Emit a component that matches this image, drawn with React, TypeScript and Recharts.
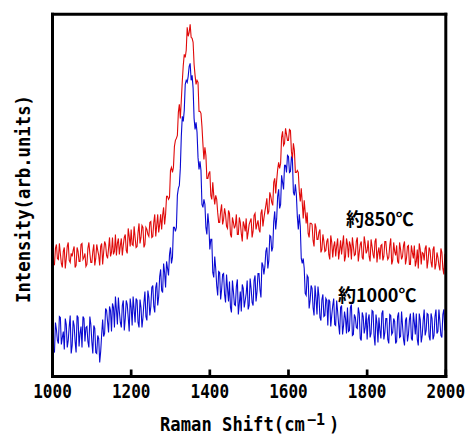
import React from 'react';
import { LineChart, Line, XAxis, YAxis } from 'recharts';

// Raman spectra sampled every 2.5 cm-1 from 1000 to 2000 cm-1
const SHIFT_START = 1000;
const SHIFT_STEP = 2.5;

// Intensity (arb. units) of the sample treated at about 850 °C
const intensity850 = [
  127, 111, 112, 128, 132, 118, 117, 133, 123, 113, 109, 125, 129, 108, 118, 130, 134, 116, 114, 123,
  120, 126, 130, 109, 111, 129, 125, 115, 115, 132, 133, 117, 119, 123, 110, 112, 128, 134, 123, 114,
  114, 125, 132, 111, 118, 132, 126, 121, 111, 130, 133, 112, 124, 135, 132, 121, 118, 128, 139, 120,
  124, 139, 122, 125, 142, 121, 133, 138, 122, 131, 138, 121, 131, 139, 142, 126, 123, 148, 140, 130,
  147, 132, 131, 150, 139, 129, 130, 144, 153, 133, 139, 151, 149, 129, 132, 149, 147, 142, 140, 154,
  155, 139, 140, 154, 162, 140, 151, 162, 144, 152, 162, 147, 161, 169, 152, 162, 180, 180, 177, 179,
  206, 209, 204, 209, 230, 236, 238, 241, 264, 272, 258, 276, 295, 311, 322, 319, 326, 349, 340, 344,
  352, 339, 338, 334, 312, 301, 292, 296, 294, 265, 265, 263, 250, 232, 217, 229, 221, 198, 198, 203,
  205, 181, 177, 194, 181, 172, 181, 177, 164, 154, 154, 165, 172, 152, 157, 168, 162, 150, 148, 166,
  163, 142, 139, 159, 154, 148, 151, 162, 142, 142, 159, 154, 143, 135, 155, 151, 145, 158, 137, 144,
  152, 155, 158, 139, 145, 161, 163, 147, 152, 156, 147, 144, 163, 167, 150, 158, 165, 171, 178, 162,
  165, 184, 180, 174, 171, 194, 198, 183, 196, 207, 214, 208, 213, 239, 245, 231, 233, 248, 242, 236,
  236, 247, 246, 225, 217, 233, 226, 204, 204, 206, 204, 185, 175, 188, 174, 158, 176, 164, 153, 164,
  143, 139, 153, 153, 152, 136, 130, 153, 149, 137, 137, 144, 147, 124, 127, 142, 135, 125, 126, 135,
  138, 122, 117, 141, 134, 119, 130, 135, 120, 130, 138, 117, 126, 136, 122, 132, 141, 115, 120, 138,
  132, 119, 135, 131, 117, 139, 130, 121, 122, 135, 139, 115, 124, 132, 135, 119, 117, 140, 133, 123,
  126, 136, 120, 115, 137, 130, 122, 118, 135, 138, 114, 124, 129, 117, 131, 132, 116, 120, 135, 135,
  123, 117, 119, 131, 138, 112, 116, 134, 125, 121, 131, 115, 113, 134, 127, 117, 120, 131, 135, 112,
  118, 130, 131, 112, 112, 131, 124, 118, 131, 110, 115, 127, 108, 133, 127, 112, 124, 123, 116, 128,
  131, 108, 116, 129, 126, 114, 109, 127, 130, 107, 112, 124, 119, 111, 106, 128, 124, 108, 102, 121,
  119,
];

// Intensity (arb. units) of the sample treated at about 1000 °C
const intensity1000 = [
  56, 27, 24, 54, 47, 36, 33, 60, 59, 32, 39, 45, 27, 58, 52, 29, 36, 50, 61, 23,
  31, 56, 51, 35, 24, 61, 59, 30, 43, 50, 29, 60, 58, 35, 49, 50, 35, 29, 60, 52,
  35, 23, 51, 48, 24, 23, 41, 38, 14, 25, 42, 57, 40, 43, 68, 66, 55, 44, 70, 66,
  45, 73, 69, 49, 80, 67, 52, 79, 65, 54, 49, 71, 76, 46, 58, 76, 72, 59, 45, 78,
  69, 51, 80, 67, 54, 78, 76, 54, 49, 77, 69, 49, 59, 74, 85, 60, 56, 86, 79, 61,
  70, 89, 91, 70, 64, 89, 94, 71, 80, 100, 107, 86, 84, 113, 104, 89, 115, 108, 101, 122,
  129, 113, 119, 149, 149, 145, 149, 181, 188, 191, 208, 240, 260, 255, 266, 292, 296, 294, 300, 310,
  313, 296, 301, 288, 258, 247, 254, 244, 219, 207, 215, 206, 172, 169, 177, 172, 149, 142, 163, 152,
  127, 137, 137, 104, 99, 120, 108, 91, 81, 105, 104, 77, 87, 102, 103, 82, 74, 102, 88, 75,
  95, 69, 64, 96, 85, 72, 71, 90, 97, 62, 73, 85, 65, 92, 88, 69, 76, 83, 96, 67,
  71, 98, 88, 74, 71, 96, 101, 75, 85, 103, 103, 87, 79, 114, 111, 102, 110, 125, 129, 108,
  116, 141, 140, 125, 129, 155, 165, 147, 158, 180, 187, 168, 172, 201, 194, 187, 211, 211, 204, 221,
  220, 204, 205, 219, 217, 184, 181, 192, 182, 160, 147, 162, 150, 118, 113, 118, 108, 83, 81, 101,
  99, 68, 76, 91, 88, 69, 61, 91, 78, 62, 90, 80, 59, 56, 77, 82, 60, 61, 78, 76,
  51, 77, 75, 50, 61, 71, 78, 52, 51, 76, 65, 52, 42, 69, 71, 42, 51, 65, 58, 43,
  69, 45, 46, 69, 72, 41, 42, 62, 59, 49, 48, 69, 63, 38, 36, 64, 60, 43, 49, 64,
  37, 57, 62, 39, 43, 66, 65, 41, 31, 62, 53, 34, 59, 46, 38, 63, 66, 37, 44, 58,
  58, 37, 33, 62, 61, 42, 44, 58, 55, 33, 35, 60, 64, 39, 40, 65, 51, 37, 31, 56,
  59, 35, 42, 57, 63, 38, 36, 64, 54, 42, 63, 37, 31, 63, 57, 34, 41, 56, 67, 41,
  46, 63, 62, 40, 36, 63, 58, 37, 41, 60, 67, 43, 45, 67, 55, 41, 39, 62, 67, 47,
  48,
];

const shiftTicks = [1000, 1200, 1400, 1600, 1800, 2000];
const shiftDomain = [1000, 2000];
const intensityTicks = [42, 148, 254];
const intensityDomain = [0, 362];

const label850 = '約850℃';
const label1000 = '約1000℃';
const xTitle = 'Raman Shift(cm';
const xTitleExp = '−1';
const xTitleEnd = ')';
const yTitle = 'Intensity(arb.units)';

const data = intensity850.map((v, i) => ({
  shift: SHIFT_START + i * SHIFT_STEP,
  t850: v,
  t1000: intensity1000[i],
}));

const MONO = "'DejaVu Sans Mono', monospace";
const CJK = "'Noto Sans CJK JP', sans-serif";

const frameLine = { stroke: '#000', strokeWidth: 3, strokeLinecap: 'square' as const };
const tickLine = { stroke: '#000', strokeWidth: 2.7 };

const ShiftTick = (props: any) => {
  const { x, y, payload } = props;
  return (
    <text
      transform={`translate(${x},${y}) scale(0.8,1)`}
      textAnchor="middle"
      fontFamily={MONO}
      fontWeight="bold"
      fontSize={20}
      fill="#000"
    >
      {payload.value}
    </text>
  );
};

export default function App() {
  return (
    <div style={{ position: 'absolute', left: 0, top: 0, background: '#fff' }}>
      <LineChart
        width={467}
        height={435}
        data={data}
        margin={{ top: 13.3, right: 20.2, bottom: 57.5, left: 51.5 }}
      >
        <XAxis
          xAxisId="bottom"
          dataKey="shift"
          type="number"
          domain={shiftDomain}
          ticks={shiftTicks}
          allowDataOverflow
          height={1}
          axisLine={frameLine}
          tickLine={tickLine}
          tickSize={-7}
          tickMargin={28.5}
          tick={<ShiftTick />}
        />
        <XAxis
          xAxisId="top"
          orientation="top"
          dataKey="shift"
          type="number"
          domain={shiftDomain}
          ticks={shiftTicks}
          allowDataOverflow
          height={1}
          axisLine={frameLine}
          tickLine={tickLine}
          tickSize={-7}
          tick={false}
        />
        <YAxis
          yAxisId="left"
          type="number"
          domain={intensityDomain}
          ticks={intensityTicks}
          allowDataOverflow
          width={1}
          axisLine={frameLine}
          tickLine={tickLine}
          tickSize={-7}
          tick={false}
        />
        <YAxis
          yAxisId="right"
          orientation="right"
          type="number"
          domain={intensityDomain}
          ticks={intensityTicks}
          allowDataOverflow
          width={1}
          axisLine={frameLine}
          tickLine={tickLine}
          tickSize={-7}
          tick={false}
        />
        <Line
          xAxisId="bottom"
          yAxisId="left"
          dataKey="t850"
          type="linear"
          stroke="#e00a0a"
          strokeWidth={1.1}
          dot={false}
          isAnimationActive={false}
        />
        <Line
          xAxisId="bottom"
          yAxisId="left"
          dataKey="t1000"
          type="linear"
          stroke="#0a0ad2"
          strokeWidth={1.1}
          dot={false}
          isAnimationActive={false}
        />
        <text
          transform="translate(160,430.5) scale(0.905,1)"
          fontFamily={MONO}
          fontWeight="bold"
          fontSize={19}
          fill="#000"
        >
          {xTitle}
        </text>
        <text
          transform="translate(307,424.5)"
          fontFamily={MONO}
          fontWeight="bold"
          fontSize={15}
          fill="#000"
        >
          {xTitleExp}
        </text>
        <text
          transform="translate(329,430.5) scale(0.905,1)"
          fontFamily={MONO}
          fontWeight="bold"
          fontSize={19}
          fill="#000"
        >
          {xTitleEnd}
        </text>
        <text
          transform="translate(30,199) rotate(-90) scale(0.864,1)"
          textAnchor="middle"
          fontFamily={MONO}
          fontWeight="bold"
          fontSize={20}
          fill="#000"
        >
          {yTitle}
        </text>
        <text x={346} y={226} fontFamily={CJK} fontWeight="bold" fontSize={18} fill="#000">
          {label850}
        </text>
        <text x={338} y={302} fontFamily={CJK} fontWeight="bold" fontSize={18} fill="#000">
          {label1000}
        </text>
      </LineChart>
    </div>
  );
}
